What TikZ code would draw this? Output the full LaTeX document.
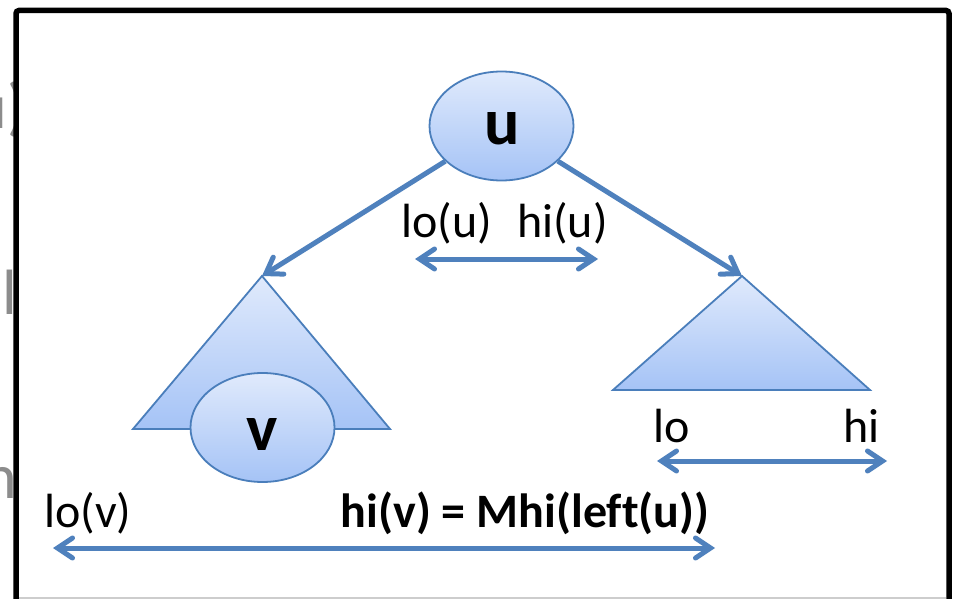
\documentclass[tikz,border=0pt]{standalone}
\usepackage{fontspec}
\setmainfont{Carlito}[Ligatures=CommonOff]
\usetikzlibrary{arrows.meta,shapes.geometric}
\definecolor{ablue}{RGB}{79,129,189}
\definecolor{edgeblue}{RGB}{74,126,187}
\definecolor{lightfill}{RGB}{224,234,252}
\definecolor{darkfill}{RGB}{165,195,246}
\definecolor{ghost}{RGB}{140,140,140}
\definecolor{rule}{RGB}{205,205,205}
\tikzset{
  blob/.style={ellipse, draw=edgeblue, line width=1.8pt, top color=lightfill, bottom color=darkfill,
    minimum width=144pt, minimum height=109pt, inner sep=0pt},
  tri/.style={draw=edgeblue, line width=1.8pt, line join=miter, top color=lightfill, bottom color=darkfill},
  bigletter/.style={font=\fontsize{66}{70}\selectfont\bfseries, inner sep=0pt, anchor=base},
  lbl/.style={font=\fontsize{48}{56}\selectfont, inner sep=0pt, anchor=base},
  boldlbl/.style={font=\fontsize{48}{56}\selectfont\bfseries, inner sep=0pt, anchor=base},
  ghosttext/.style={font=\fontsize{64}{70}\selectfont, text=ghost, inner sep=0pt},
  arr/.style={draw=ablue, line width=5pt, -{Straight Barb[length=15pt,width=20pt,line cap=round]}},
  darr/.style={draw=ablue, line width=5pt, {Straight Barb[length=15pt,width=20pt,line cap=round]}-{Straight Barb[length=15pt,width=20pt,line cap=round]}},
  frameline/.style={draw=black, line width=5.5pt, fill=white, rounded corners=3pt}
}
\begin{document}
\begin{tikzpicture}[x=1pt,y=-1pt]
\useasboundingbox (0,0) rectangle (956,599);
\begin{scope}
\clip (0,0) rectangle (956,599);
\fill[white] (0,0) rectangle (956,599);
% background slide text fragments
\node[ghosttext, anchor=base east] (g1) at (27,129) {u)};
\node[ghosttext, anchor=base west] (g2) at (2.5,314) {l};
\node[ghosttext, anchor=base east] (g3) at (17.5,498) {n};
% frame
\path[frameline] (16,620) -- (16,10.5) -- (949,10.5) -- (949,620);
\draw[rule, line width=1.5pt] (19,598) -- (946,598);
\end{scope}

% triangles
\coordinate (apexL) at (262,276);
\coordinate (baseLl) at (133,429);
\coordinate (baseLr) at (390,429);
\coordinate (apexR) at (742,276);
\coordinate (baseRl) at (613,390);
\coordinate (baseRr) at (870,390);
\path[tri] (apexL) -- (baseLr) -- (baseLl) -- cycle;
\path[tri] (apexR) -- (baseRr) -- (baseRl) -- cycle;

% nodes
\node[blob] (u) at (501.5,126) {};
\node[bigletter] (ulab) at (502,145) {u};
\node[blob] (v) at (262.5,427.5) {};
\node[bigletter] (vlab) at (262.5,450) {v};

% tree edges
\draw[arr] (u) -- (apexL);
\draw[arr] (u) -- (apexR);

% interval labels
\node[lbl] (lou) at (447,237) {lo(u)};
\node[lbl] (hiu) at (562.5,237) {hi(u)};
\coordinate (uaL) at (415,259);
\coordinate (uaR) at (598,259);
\draw[darr] (uaL) -- (uaR);

\node[lbl] (lo) at (671.5,442) {lo};
\node[lbl] (hi) at (861.5,442) {hi};
\coordinate (raL) at (657,461);
\coordinate (raR) at (887,461);
\draw[darr] (raL) -- (raR);

\node[lbl] (lov) at (88,527) {lo(v)};
\node[boldlbl] (hiv) at (525,527) {hi(v) = Mhi(left(u))};
\coordinate (baL) at (53,548);
\coordinate (baR) at (715,548);
\draw[darr] (baL) -- (baR);
\end{tikzpicture}
\end{document}
